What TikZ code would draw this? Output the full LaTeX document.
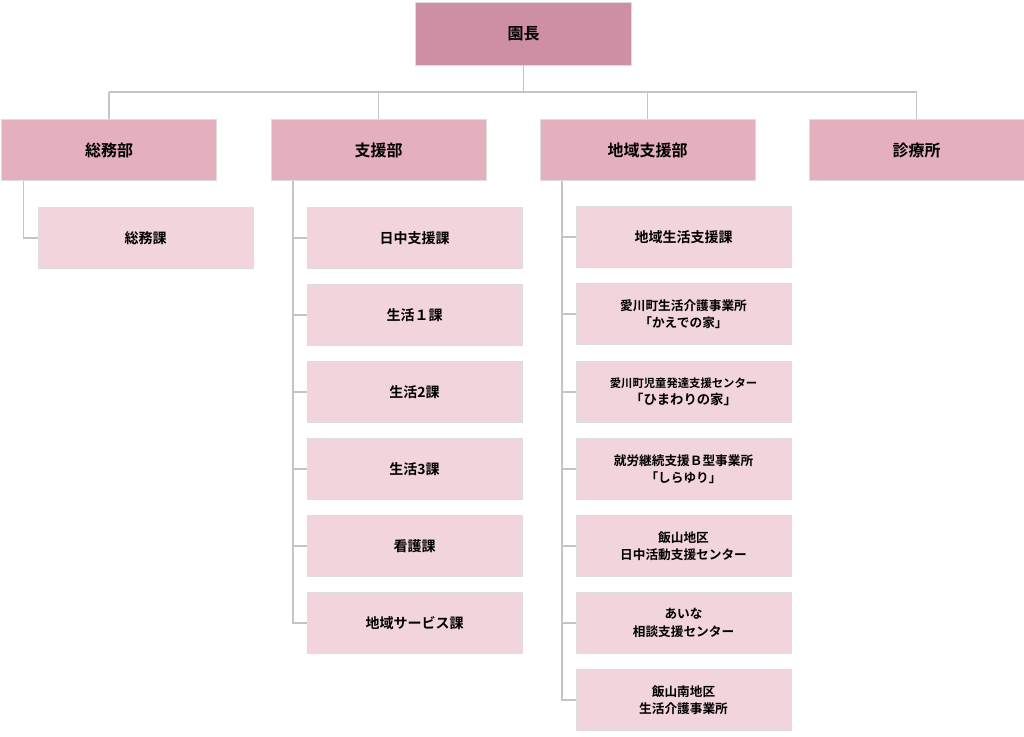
\documentclass[tikz,border=0pt]{standalone}
\usepackage{fontspec}
\setmainfont{Noto Sans CJK JP}[BoldFont={Noto Sans CJK JP Bold}]
\usetikzlibrary{positioning}
\definecolor{cheif}{HTML}{CE8FA5}
\definecolor{dept}{HTML}{E5B0BD}
\definecolor{sect}{HTML}{F2D5DC}
\definecolor{rim}{HTML}{DDDDDD}
\definecolor{wire}{HTML}{C4C4C4}
\tikzset{
  head/.style={fill=cheif,draw=rim,minimum width=162pt,minimum height=47pt,font=\bfseries\fontsize{12}{14}\selectfont},
  bu/.style={fill=dept,draw=rim,minimum width=161pt,minimum height=46pt,font=\bfseries\fontsize{12}{14}\selectfont},
  ka/.style={fill=sect,draw=rim,minimum width=161pt,minimum height=46pt,align=center,font=\bfseries\fontsize{10.5}{13}\selectfont},
  kas/.style={ka,font=\bfseries\fontsize{9.5}{13}\selectfont},
  line/.style={draw=wire,line width=1pt}
}
\begin{document}
\begin{tikzpicture}[x=0.75pt,y=-0.75pt]
        \useasboundingbox (0,0) rectangle (1024,737);
        % top
        \node[head] (encho) at (523.5,33.5) {園長};
        \coordinate (bus) at (523.5,92);
        % departments
        \node[bu] (somu) at (109,150) {総務部};
        \node[bu] (shien) at (378.5,150) {支援部};
        \node[bu] (chiiki) at (647.5,150) {地域支援部};
        \node[bu] (shinryo) at (916.5,150) {診療所};
        \draw[line] (encho) -- (bus);
        \draw[line] (somu|-bus) -- (shinryo|-bus);
        \foreach \d in {somu,shien,chiiki,shinryo}
        \draw[line] (\d|-bus) -- (\d);
        % somu
        \node[ka] (somuka) at (145.5,238) {総務課};
        \draw[line] ([xshift=16.5pt]somu.south west) |- (somuka);
        % shien
        \foreach \n/\y/\t in {s1/238/日中支援課,s2/315/生活１課,s3/392/生活2課,s4/469/生活3課,s5/546/看護課,s6/623/地域サービス課}
        {
        \node[ka] (\n) at (414.5,\y) {\t};
        \draw[line] ([xshift=16.5pt]shien.south west) |- (\n);
        }
        % chiiki
        \node[ka] (c1) at (683.5,237) {地域生活支援課};
        \node[kas] (c2) at (683.5,314) {愛川町生活介護事業所\\「かえでの家」};
        \node[kas,font=\bfseries\fontsize{8.5}{13}\selectfont] (c3) at (683.5,392) {愛川町児童発達支援センター\\\fontsize{10}{13}\selectfont「ひまわりの家」};
        \node[kas] (c4) at (683.5,469) {就労継続支援Ｂ型事業所\\「しらゆり」};
        \node[kas] (c5) at (683.5,546) {飯山地区\\日中活動支援センター};
        \node[kas] (c6) at (683.5,623) {あいな\\相談支援センター};
        \node[kas] (c7) at (683.5,700) {飯山南地区\\生活介護事業所};
        \foreach \n in {c1,c2,c3,c4,c5,c6,c7}
        \draw[line] ([xshift=16.5pt]chiiki.south west) |- (\n);
\end{tikzpicture}
\end{document}
